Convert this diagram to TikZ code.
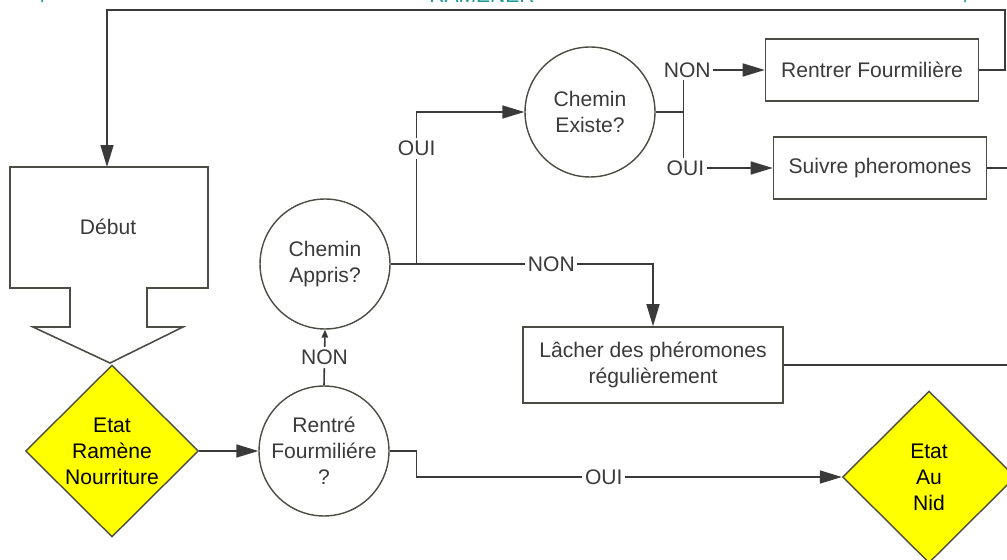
\documentclass[tikz,border=0pt]{standalone}
\usepackage{fontspec}
\setmainfont{Liberation Sans}
\usetikzlibrary{shapes.geometric, arrows.meta}
\definecolor{inkgray}{HTML}{3A3A3A}
\definecolor{edgegray}{HTML}{4C4C44}
\definecolor{ramteal}{HTML}{1A9A9A}
\definecolor{etatyellow}{HTML}{FFFF00}

\begin{document}
\begin{tikzpicture}[
  x=0.02cm, y=-0.02cm,
  font=\fontsize{12}{14.8}\selectfont,
  every node/.style={text=inkgray},
  box/.style={draw=edgegray, line width=0.9pt, align=center, inner sep=0pt, minimum height=1.24cm},
  quest/.style={circle, draw=edgegray, line width=0.8pt, align=center, minimum size=2.6cm, inner sep=0pt},
  etat/.style={diamond, draw=edgegray, fill=etatyellow, line width=0.8pt, align=center, minimum width=3.46cm, minimum height=3.44cm, inner sep=0pt, text=black},
  lbl/.style={fill=white, inner sep=1.5pt},
  link/.style={line width=0.9pt, draw=inkgray},
  arr/.style={link, -{Triangle[length=4.4mm,width=2.6mm]}},
  arrsmall/.style={link, -{Triangle[length=1.6mm,width=1.3mm]}}
]
\useasboundingbox (0,0) rectangle (1007,560);
\clip (0,0) rectangle (1007,560);

% bits of the page above
\node[text=ramteal, anchor=base] (ramener) at (482,3) {RAMENER};
\node[text=ramteal, anchor=base] (slashl) at (44,3) {/};
\node[text=ramteal, anchor=base] (slashr) at (967,3) {/};

% start block
\draw[link, draw=edgegray] (10,167) -- (208,167) -- (208,288) -- (147,288) -- (147,327) -- (183,327)
  -- (110,363) -- (33,327) -- (70,327) -- (70,288) -- (10,288) -- cycle;
\node (debut) at (108,227) {Début};
\coordinate (debut-top) at (107,167);
\coordinate (loop) at (107,10);

\node[etat] (ramene) at (112,451) {Etat\\Ramène\\Nourriture};
\node[quest] (rentre) at (324,451) {Rentré\\Fourmiliére\\?};
\node[quest] (appris) at (325,264) {Chemin\\Appris?};
\node[quest] (existe) at (590,112) {Chemin\\Existe?};
\node[box, minimum width=4.26cm] (rf) at (872,70) {Rentrer Fourmilière};
\node[box, minimum width=4.26cm] (sp) at (880,168) {Suivre pheromones};
\node[box, minimum width=5.2cm, minimum height=1.52cm] (lacher) at (653,365) {Lâcher des phéromones\\régulièrement};
\node[etat] (nid) at (929,477) {Etat\\Au\\Nid};

\coordinate (sp-out) at (1012,168);
\coordinate (lacher-out) at (1012,365);

% connectors
\draw[arr] (ramene.east) -- (rentre.west);
\draw[arrsmall] (rentre.north) -- node[lbl] {NON} (appris.south);
\draw[arr] (appris.east) -- ++(26,0) |- node[lbl, pos=0.38] {OUI} (existe.west);
\draw[arr] (appris.east) -- ++(26,0) -| node[lbl, pos=0.285] {NON} (lacher.north);
\draw[arr] (existe.east) -- ++(28,0) |- node[lbl, pos=0.5, xshift=2pt] {NON} (rf.west);
\draw[arr] (existe.east) -- ++(28,0) |- node[lbl, pos=0.5, xshift=1pt] {OUI} (sp.west);
\draw[arr] (rentre.east) -- ++(27,0) |- node[lbl, pos=0.72] {OUI} (nid.west);
\draw[arr] (rf.east) -- ++(26,0) |- (loop) -- (debut-top);
\draw[link] (sp.east) -- (sp-out);
\draw[link] (lacher.east) -- (lacher-out);

\end{tikzpicture}
\end{document}
